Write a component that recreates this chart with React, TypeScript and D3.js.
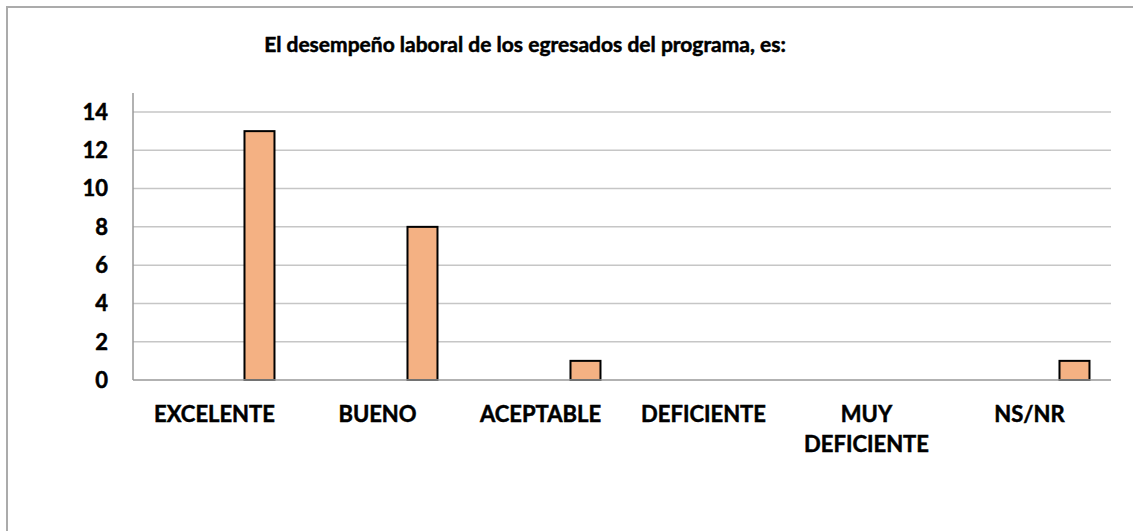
import React from "react";
import * as d3 from "d3";

const title = "El desempeño laboral de los egresados del programa, es:";
const categories = ["EXCELENTE", "BUENO", "ACEPTABLE", "DEFICIENTE", "MUY DEFICIENTE", "NS/NR"];
const categoryLines = [["EXCELENTE"], ["BUENO"], ["ACEPTABLE"], ["DEFICIENTE"], ["MUY", "DEFICIENTE"], ["NS/NR"]];
const values = [13, 8, 1, 0, 0, 1];
const yTicks = [0, 2, 4, 6, 8, 10, 12, 14];

export default function App() {
  const W = 1133, H = 531;
  const left = 133, right = 1111, top = 112, bottom = 380;
  const x = d3.scaleBand<string>().domain(categories).range([left, right]).padding(0);
  const y = d3.scaleLinear().domain([0, 14]).range([bottom, top]);
  const bw = x.bandwidth();
  const barW = bw * 0.184;
  const font = "Lato, 'Open Sans', sans-serif";
  const textStyle = { stroke: "#000", strokeWidth: 0.5 };

  return (
    <svg width={W} height={H} style={{ position: "absolute", left: 0, top: 0, background: "#fff" }}>
      <rect x={7} y={7} width={W + 20} height={H + 20} fill="#fff" stroke="#ababab" strokeWidth={2} />
      <text x={525} y={52} textAnchor="middle" fontFamily={font} fontWeight="bold" fontSize={21} fill="#000" style={textStyle}>
        {title}
      </text>
      {yTicks.map((t) => (
        <g key={t}>
          {t > 0 && (
            <line x1={left} x2={right} y1={y(t)} y2={y(t)} stroke="#c6c6c6" strokeWidth={1.5} />
          )}
          <text x={108} y={y(t)} dy="0.36em" textAnchor="end" fontFamily={font} fontWeight="bold" fontSize={22} fill="#000" style={textStyle}>
            {t}
          </text>
        </g>
      ))}
      <line x1={left} x2={left} y1={93} y2={bottom} stroke="#999" strokeWidth={1.5} />
      {categories.map((c, i) => {
        const cx = (x(c) as number) + bw / 2;
        const v = values[i];
        return (
          <g key={c}>
            {v > 0 && (
              <rect
                x={cx + barW}
                y={y(v)}
                width={barW}
                height={bottom - y(v)}
                fill="#F4B183"
                stroke="#000"
                strokeWidth={2}
              />
            )}
            <text x={cx} y={422} textAnchor="middle" fontFamily={font} fontWeight="bold" fontSize={22} fill="#000" style={textStyle}>
              {categoryLines[i].map((ln, j) => (
                <tspan key={j} x={cx} dy={j === 0 ? 0 : 30}>
                  {ln}
                </tspan>
              ))}
            </text>
          </g>
        );
      })}
      <line x1={left} x2={right} y1={bottom} y2={bottom} stroke="#999" strokeWidth={1.5} />
    </svg>
  );
}
